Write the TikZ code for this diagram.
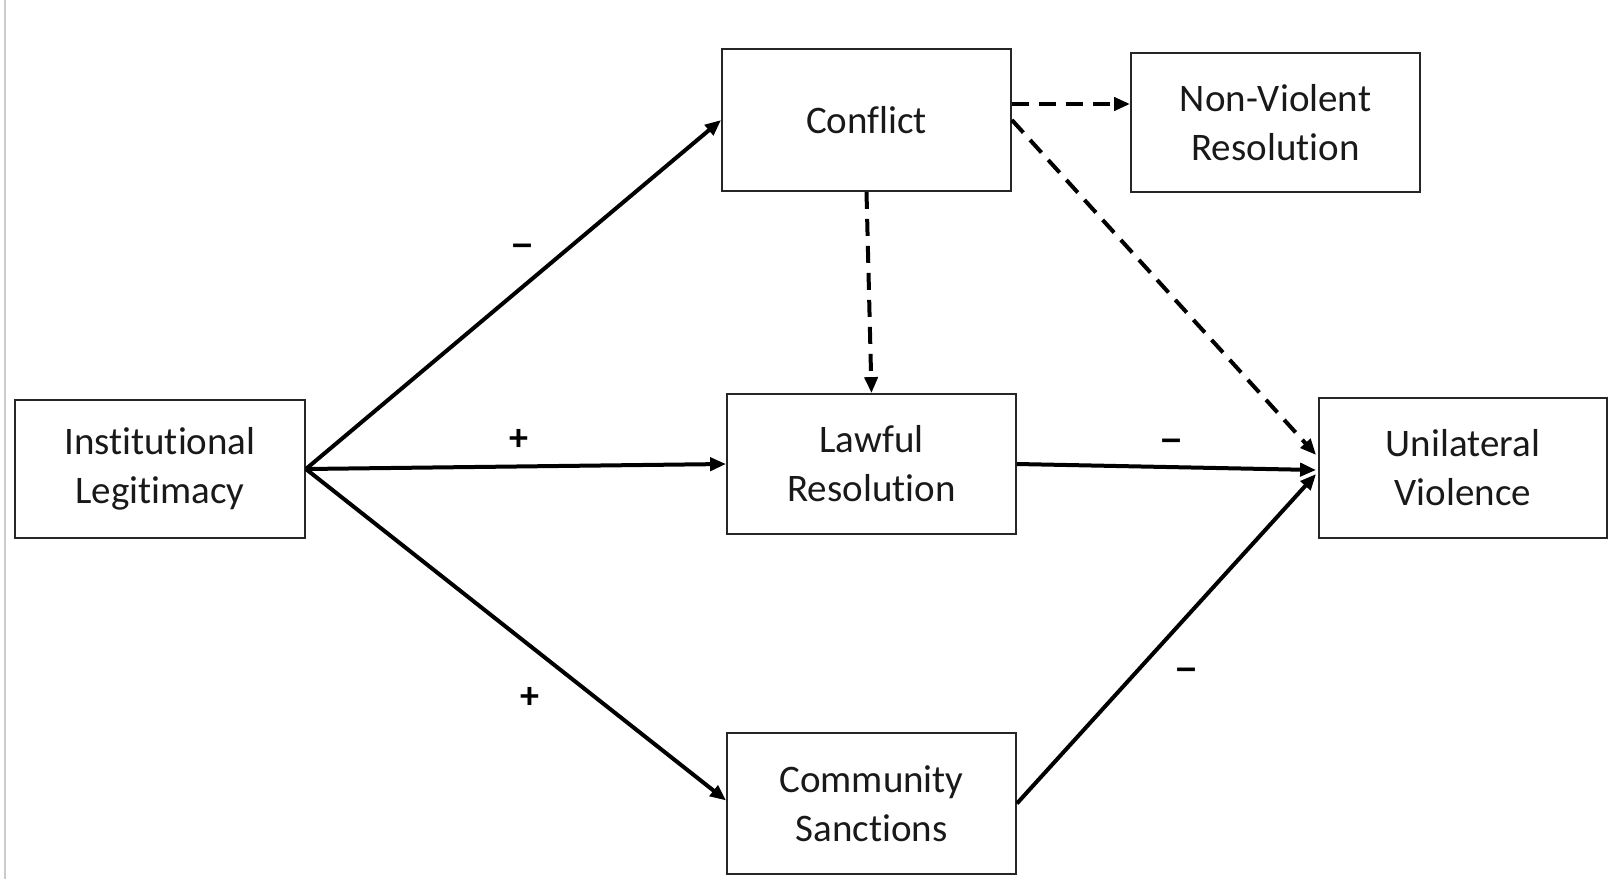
\documentclass[tikz,border=0pt]{standalone}
\usepackage{fontspec}
\setmainfont{Carlito}[Ligatures={NoCommon,NoRequired}]
\newfontfamily\signfont{Liberation Sans}
\usetikzlibrary{arrows.meta}
\begin{document}
\begin{tikzpicture}[x=0.5pt,y=-0.5pt,
  box/.style={draw=black!85,line width=0.9pt,align=center,inner sep=0pt,
    font=\fontsize{19.5pt}{24.5pt}\selectfont,text=black!90},
  arr/.style={line width=2pt,-{Triangle[length=8pt,width=6.5pt]}},
  dsh/.style={line width=2pt,dash pattern=on 8.5pt off 5pt,-{Triangle[length=8pt,width=6.5pt]}},
  sign/.style={font=\fontsize{19pt}{22pt}\selectfont\bfseries,inner sep=0pt},
  msign/.style={font=\signfont\fontsize{18pt}{22pt}\selectfont\bfseries,inner sep=0pt}]
\useasboundingbox (0,0) rectangle (1608,879);
\coordinate (gtop) at (5,0);
\coordinate (gbot) at (5,879);
\draw[black!20,line width=1pt] (gtop) -- (gbot);

\node[box,minimum width=145pt,minimum height=69pt] (IL) at (160,469) {Institutional\\Legitimacy};
\node[box,minimum width=144.5pt,minimum height=71pt] (C) at (866.5,120) {Conflict};
\node[box,minimum width=144.5pt,minimum height=69.5pt] (NV) at (1275.5,122.5) {Non-Violent\\Resolution};
\node[box,minimum width=144.5pt,minimum height=70pt] (LR) at (871.5,464) {Lawful\\Resolution};
\node[box,minimum width=144pt,minimum height=70pt] (UV) at (1463,468) {Unilateral\\Violence};
\node[box,minimum width=144.5pt,minimum height=70.5pt] (CS) at (871.5,803.5) {Community\\Sanctions};

\draw[arr] (IL.east) -- (C.west);
\draw[arr] (IL.east) -- (LR.west);
\draw[arr] (IL.east) -- ([yshift=1.5pt]CS.west);
\draw[arr] (LR.east) -- ([xshift=-1pt,yshift=-1pt]UV.west);
\draw[arr] (CS.east) -- ([xshift=-1pt,yshift=-3pt]UV.west);
\draw[dsh] (C.east) -- ([xshift=-1pt,yshift=6.5pt]UV.west);
\draw[dsh] ([yshift=8pt]C.east) -- ([yshift=8pt]C.east -| NV.west);
\draw[dsh] (C.south) -- (LR.north);

\node[msign] (s1) at (523,250) {–};
\node[sign] (s2) at (519,440) {+};
\node[sign] (s3) at (530,698) {+};
\node[msign] (s4) at (1172,445) {–};
\node[msign] (s5) at (1187,674) {–};
\end{tikzpicture}
\end{document}
